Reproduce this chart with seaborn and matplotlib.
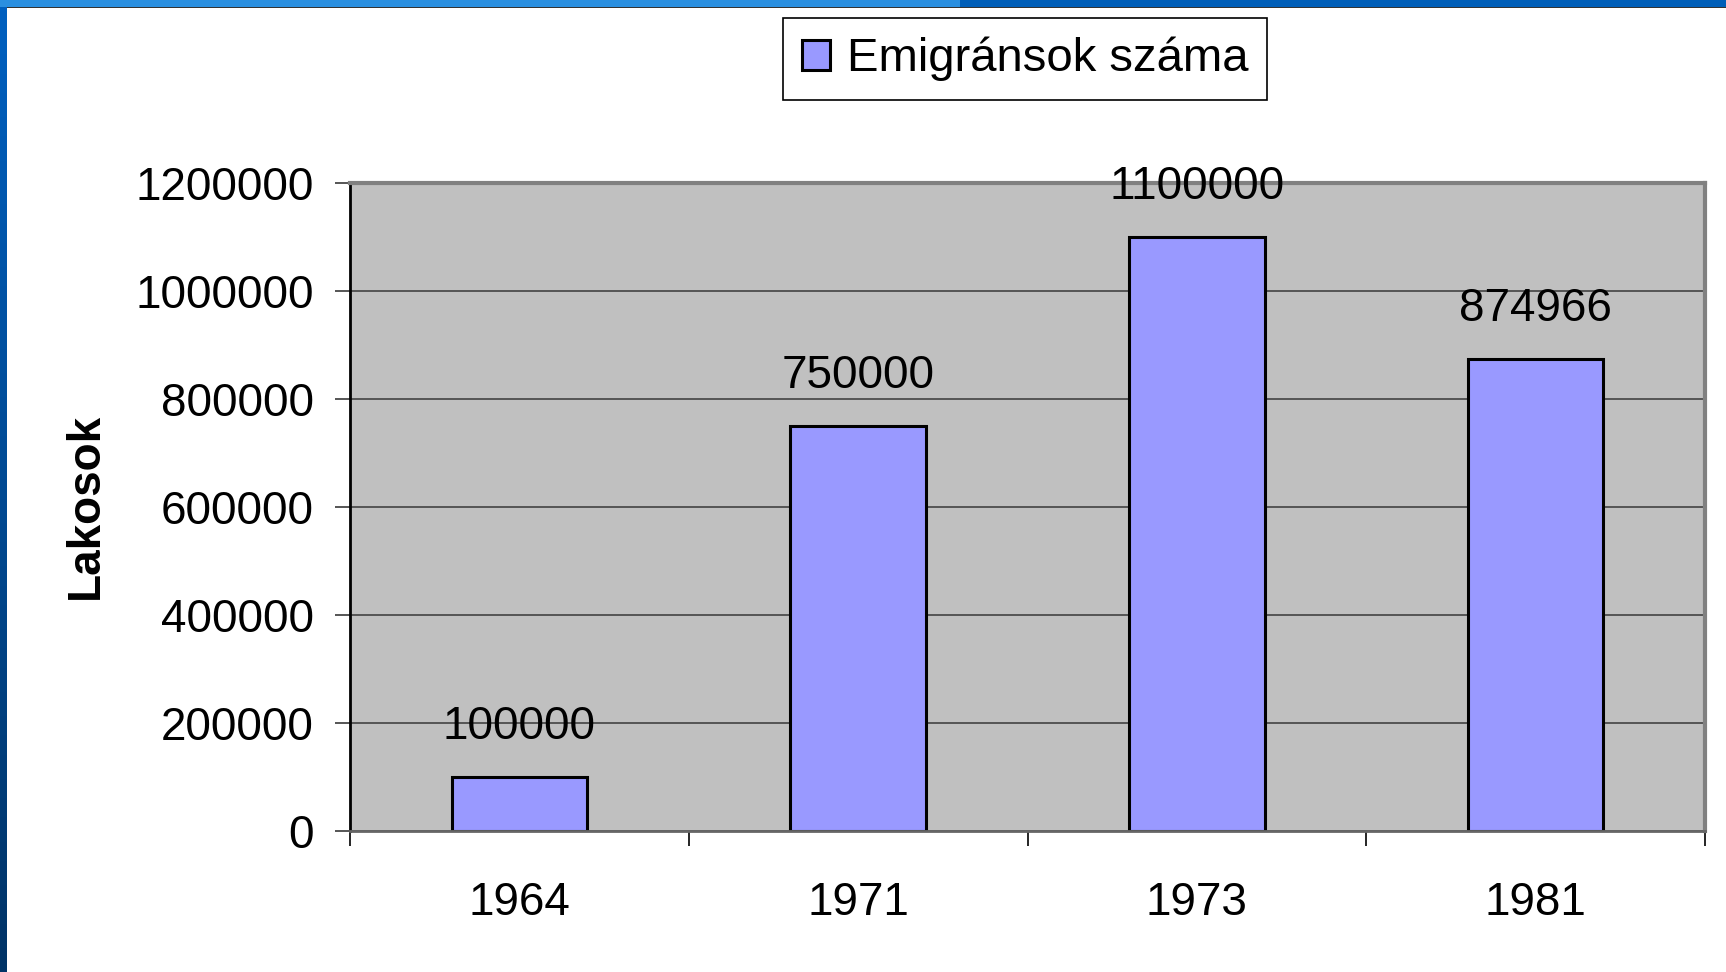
import numpy as np
import pandas as pd
import matplotlib
matplotlib.use("Agg")
import matplotlib.pyplot as plt
import seaborn as sns
from matplotlib.patches import Rectangle, Patch
from matplotlib.colors import LinearSegmentedColormap

sns.set_style("white")
plt.rcParams['font.family'] = ['Liberation Sans', 'DejaVu Sans']
plt.rcParams['text.color'] = 'black'
plt.rcParams['xtick.color'] = 'black'
plt.rcParams['ytick.color'] = 'black'

# data
years = ['1964', '1971', '1973', '1981']
emigrants = [100000, 750000, 1100000, 874966]
y_ticks = [0, 200000, 400000, 600000, 800000, 1000000, 1200000]
legend_label = 'Emigránsok száma'
y_label = 'Lakosok'

df = pd.DataFrame({'ev': years, 'fo': emigrants})

W, H = 1726, 972
fig = plt.figure(figsize=(W / 100, H / 100), dpi=100)
fig.patch.set_facecolor('white')

ax = fig.add_axes([350 / W, 1 - 831 / H, 1355 / W, 648 / H])
ax.set_facecolor('#C0C0C0')

sns.barplot(data=df, x='ev', y='fo', color='#9999FF', edgecolor='black',
            linewidth=2.2, width=0.4, saturation=1, ax=ax, zorder=3)

ax.set_ylim(0, 1200000)
ax.set_xlim(-0.5, len(years) - 0.5)
ax.set_yticks(y_ticks)
ax.set_yticklabels([str(t) for t in y_ticks])
ax.yaxis.grid(True, color='#555555', linewidth=1.4, zorder=1)
ax.set_axisbelow(True)

# x ticks at category boundaries, labels in between
ax.set_xticks(np.arange(len(years) + 1) - 0.5)
ax.set_xticklabels([''] * (len(years) + 1))
ax.set_xticks(np.arange(len(years)), minor=True)
ax.set_xticklabels(years, minor=True)
ax.tick_params(axis='x', which='major', bottom=True, length=11, width=1.2,
               color='black', direction='out')
ax.tick_params(axis='x', which='minor', bottom=True, length=0, pad=36,
               labelsize=33, labelcolor='black')
ax.tick_params(axis='y', left=True, length=11, width=1.4, color='#555555',
               pad=15, labelsize=33, labelcolor='black')
ax.set_xlabel('')
ax.set_ylabel('')

for s in ['top', 'right']:
    ax.spines[s].set_color('#808080')
    ax.spines[s].set_linewidth(3)
ax.spines['bottom'].set_color('#666666')
ax.spines['bottom'].set_linewidth(2)
ax.spines['left'].set_color('black')
ax.spines['left'].set_linewidth(2)
for s in ax.spines.values():
    s.set_zorder(4)

# value labels above the bars
for i, v in enumerate(emigrants):
    ax.annotate(str(v), (i, v), xytext=(0, 36), textcoords='offset points',
                ha='center', va='center', fontsize=33, color='black',
                clip_on=False, zorder=6)

fig.text(86 / W, 1 - 506 / H, y_label, rotation=90, ha='center', va='center',
         fontsize=33, fontweight='bold', color='black')

handle = Patch(facecolor='#9999FF', edgecolor='black', linewidth=2.2)
leg = fig.legend([handle], [legend_label], loc='upper left',
                 bbox_to_anchor=(783 / W, 1 - 18 / H), fontsize=34,
                 frameon=True, fancybox=False, edgecolor='black', framealpha=1,
                 handlelength=0.6, handleheight=0.6, handletextpad=0.35,
                 borderpad=0.4, borderaxespad=0)
leg.get_frame().set_linewidth(1.2)
for t in leg.get_texts():
    t.set_color('black')

# slide frame: blue strips at the top and left
fig.patches.append(Rectangle((0, 1 - 7 / H), 960 / W, 7 / H, transform=fig.transFigure,
                             facecolor='#2A8FE0', edgecolor='none', zorder=10))
fig.patches.append(Rectangle((960 / W, 1 - 7 / H), 1 - 960 / W, 7 / H, transform=fig.transFigure,
                             facecolor='#005EB8', edgecolor='none', zorder=10))
fig.patches.append(Rectangle((7 / W, 1 - 8 / H), 1 - 7 / W, 1 / H, transform=fig.transFigure,
                             facecolor='#333333', edgecolor='none', zorder=10))
side = fig.add_axes([0, 0, 7 / W, 1 - 7 / H])
cmap = LinearSegmentedColormap.from_list('side', ['#003366', '#0060C0'])
side.imshow(np.linspace(0, 1, 200).reshape(-1, 1), cmap=cmap, aspect='auto', origin='lower')
side.axis('off')

fig.savefig('out.png', dpi=100)
